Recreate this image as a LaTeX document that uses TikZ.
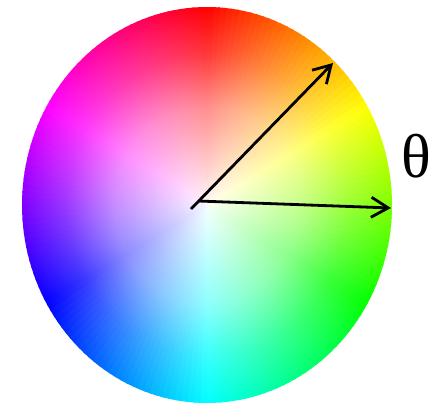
\documentclass[tikz,border=0pt]{standalone}
\usepackage{fontspec}
\setmainfont{Liberation Serif}
\usetikzlibrary{arrows.meta,fadings}
% white hub that thins out towards the rim
\pgfdeclareradialshading{hubshade}{\pgfpointorigin}{color(0bp)=(black!4); color(12.5bp)=(black!45); color(19bp)=(black!78); color(25bp)=(black); color(50bp)=(black)}
\pgfdeclarefading{hubfade}{\pgfuseshading{hubshade}}
\tikzset{
  >={Straight Barb[length=17pt,width=20pt,line width=2.8pt]},
  vec/.style={->,line width=2.8pt,draw=black},
  angle label/.style={font=\fontsize{62}{62}\selectfont,inner sep=0pt},
}

\begin{document}
\begin{tikzpicture}[x=1pt,y=1pt]
    \useasboundingbox (0,0) rectangle (437,407);
    \coordinate (hub) at (207,202);
    % hue wedges, red on top, running clockwise
    \foreach \a in {0,2,...,358}{
      \pgfmathtruncatemacro{\h}{mod(89-\a+720,360)}
      \definecolor{wedge}{Hsb}{\h,1,1}
      \fill[wedge] (hub) -- ++(\a:185 and 198) arc[start angle=\a,end angle=\a+2.6,x radius=185,y radius=198] -- cycle;
    }
    \fill[white,path fading=hubfade,fit fading=true] (hub) ellipse[x radius=185,y radius=198];
    % vectors
    \coordinate (o1) at (191,198);
    \coordinate (tip1) at (333,344);
    \coordinate (o2) at (198,206);
    \coordinate (tip2) at (391,199);
    \draw[vec] (o1) -- (tip1);
    \draw[vec] (o2) -- (tip2);
    \node[angle label] (theta) at (416,251) {θ};
  \end{tikzpicture}
\end{document}
